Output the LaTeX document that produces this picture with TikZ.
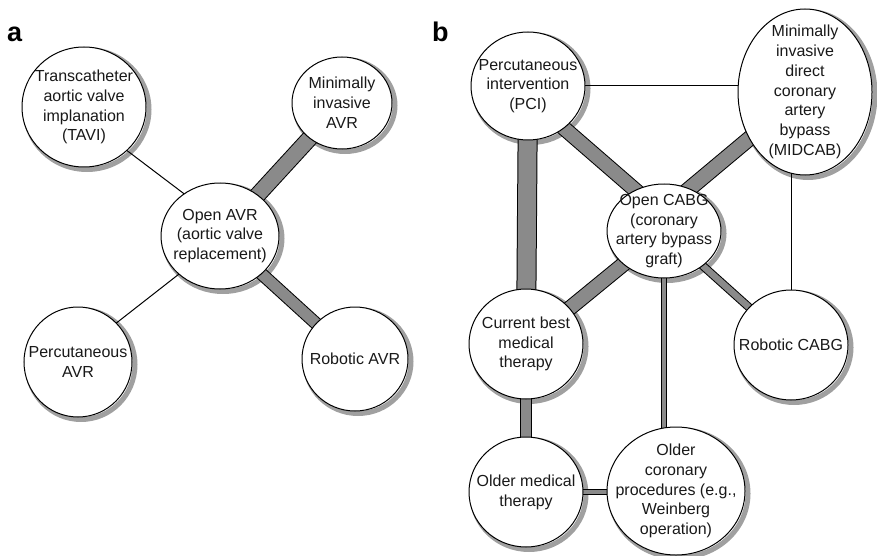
\documentclass[tikz,border=0pt]{standalone}
\usepackage{fontspec}
\setmainfont{Liberation Sans}
\usetikzlibrary{shapes.geometric,calc}
\pgfdeclarelayer{links}
\pgfsetlayers{links,main}
\definecolor{shadegray}{HTML}{A0A0A0}
\definecolor{barfill}{HTML}{8A8A8A}
\newcommand\nodetextfont{\fontsize{16}{19.8}\selectfont}
\newcommand\panellabelfont{\fontsize{27}{30}\selectfont\bfseries}
\tikzset{
  bub/.style 2 args={shape=ellipse, draw=black, line width=1pt, fill=white,
    inner sep=-40pt, outer sep=0pt, minimum width={2*#1}, minimum height={2*#2},
    align=center, font=\nodetextfont, text=black!90},
  bubshadow/.style={draw=shadegray, line width=5pt},
  link/.style={draw=black, line width=1pt},
  bar/.style={draw=black, line width=1pt, double=barfill, double distance=#1},
  panel/.style={font=\panellabelfont, anchor=base west, inner sep=0pt}
}
\begin{document}
\begin{tikzpicture}[x=1pt, y=-1pt]
\useasboundingbox (0,0) rectangle (877,556);

% panel labels
\node[panel] (labela) at (7,42) {a};
\node[panel] (labelb) at (432,42) {b};

% panel a: aortic valve replacement options
\node[bub={62}{60}] (tavi) at (84,107) {Transcatheter\\aortic valve\\implanation\\(TAVI)};
\node[bub={50}{46}] (mavr) at (342,103) {Minimally\\invasive\\AVR};
\node[bub={59}{53}] (oavr) at (220,236) {Open AVR\\(aortic valve\\replacement)};
\node[bub={54}{55}] (pavr) at (78,362) {Percutaneous\\AVR};
\node[bub={53}{52}] (ravr) at (355,359) {Robotic AVR};

% panel b: coronary revascularisation options
\node[bub={57}{54}] (pci) at (528,86) {Percutaneous\\intervention\\(PCI)};
\node[bub={67}{83}] (midcab) at (805,92) {Minimally\\invasive\\direct\\coronary\\artery\\bypass\\(MIDCAB)};
\node[bub={57}{47}] (ocabg) at (664,231) {Open CABG\\(coronary\\artery bypass\\graft)};
\node[bub={57}{55}] (cbmt) at (526,344) {Current best\\medical\\therapy};
\node[bub={57}{55}] (rcabg) at (791,345) {Robotic CABG};
\node[bub={57}{55}] (omt) at (526,492) {Older medical\\therapy};
\node[bub={69}{64}] (ocp) at (676,491) {Older\\coronary\\procedures (e.g.,\\Weinberg\\operation)};

\begin{pgfonlayer}{links}
% shadow rims: a broad grey stroke, offset to the lower right, peeking out below each bubble
\draw[bubshadow] ($(tavi.center)+(3,2.5)$) ellipse (62 and 60);
\draw[bubshadow] ($(mavr.center)+(3,2.5)$) ellipse (50 and 46);
\draw[bubshadow] ($(oavr.center)+(3,2.5)$) ellipse (59 and 53);
\draw[bubshadow] ($(pavr.center)+(3,2.5)$) ellipse (54 and 55);
\draw[bubshadow] ($(ravr.center)+(3,2.5)$) ellipse (53 and 52);
\draw[bubshadow] ($(pci.center)+(3,2.5)$) ellipse (57 and 54);
\draw[bubshadow] ($(midcab.center)+(3,2.5)$) ellipse (67 and 83);
\draw[bubshadow] ($(ocabg.center)+(3,2.5)$) ellipse (57 and 47);
\draw[bubshadow] ($(cbmt.center)+(3,2.5)$) ellipse (57 and 55);
\draw[bubshadow] ($(rcabg.center)+(3,2.5)$) ellipse (57 and 55);
\draw[bubshadow] ($(omt.center)+(3,2.5)$) ellipse (57 and 55);
\draw[bubshadow] ($(ocp.center)+(3,2.5)$) ellipse (69 and 64);

% connectors: thin lines and weighted bars
\draw[link] ($(tavi.center)+(0,11)$) -- ($(oavr.center)+(0,-15)$);
\draw[link] ($(pavr.center)+(0,-9)$) -- ($(oavr.center)+(0,6)$);
\draw[bar=15pt] (oavr.center) -- (mavr.center);
\draw[bar=11pt] (oavr.center) -- (ravr.center);

\draw[link] (pci.center) -- (pci.center -| midcab.center);
\draw[link] (rcabg.center) -- (rcabg.center |- midcab.center);
\draw[bar=13.5pt] ($(pci.center)+(0,11)$) -- ($(ocabg.center)+(0,-16)$);
\draw[bar=18pt] (pci.center) -- (cbmt.center);
\draw[bar=14pt] (midcab.center) -- ($(ocabg.center)+(0,-21)$);
\draw[bar=13.5pt] (ocabg.center) -- (cbmt.center);
\draw[bar=6.5pt] (ocabg.center) -- (rcabg.center);
\draw[bar=4pt] (ocabg.center) -- (ocabg.center |- ocp.center);
\draw[bar=10pt] (cbmt.center) -- (omt.center);
\draw[bar=4pt] (omt.center) -- (omt.center -| ocp.center);
\end{pgfonlayer}
\end{tikzpicture}
\end{document}
